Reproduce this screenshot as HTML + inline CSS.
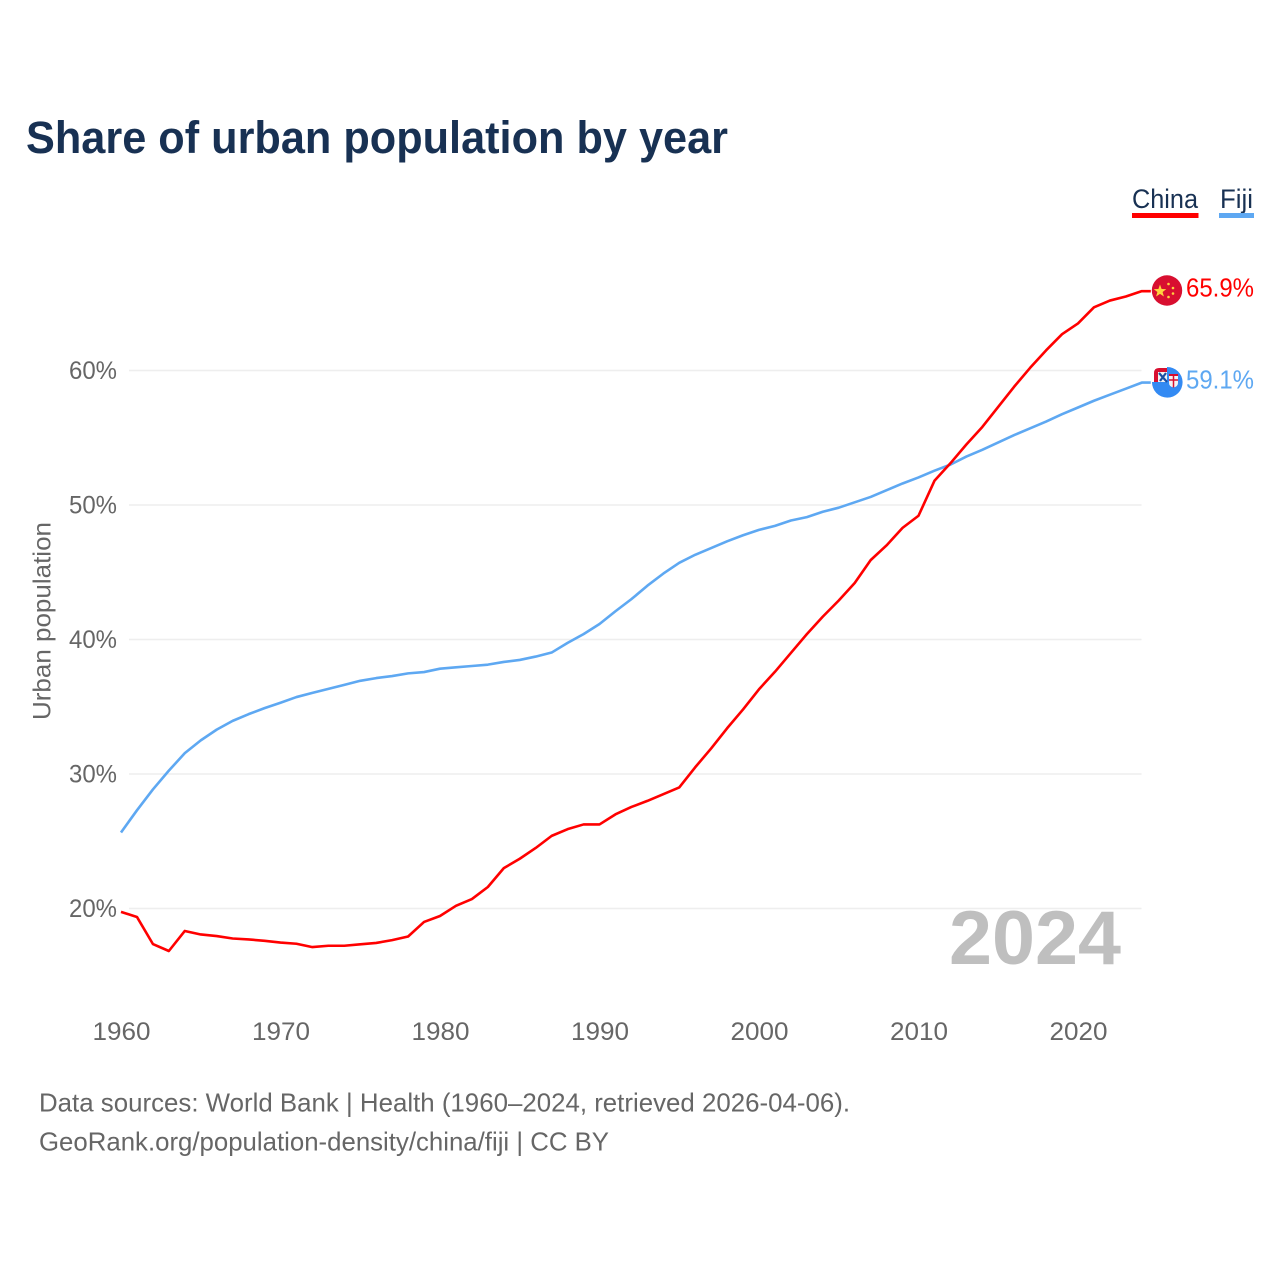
<!DOCTYPE html>
<html lang="en">
<head>
<meta charset="utf-8">
<title>Share of urban population by year</title>
<style>
html,body{margin:0;padding:0;background:#fff;width:1280px;height:1280px;overflow:hidden}
svg{display:block;font-family:"Liberation Sans",sans-serif}
</style>
</head>
<body>
<svg id="chart" width="1280" height="1280" viewBox="0 0 1280 1280" xmlns="http://www.w3.org/2000/svg">
  <text x="26" y="153" font-size="45" font-weight="700" fill="#183153" textLength="702" lengthAdjust="spacingAndGlyphs">Share of urban population by year</text>

  <g>
    <g>
      <text x="1132" y="208" font-size="27" fill="#183153" textLength="66" lengthAdjust="spacingAndGlyphs">China</text>
      <rect x="1132" y="213" width="66.5" height="5" fill="#ff0000"/>
    </g>
    <g>
      <text x="1220" y="208" font-size="27" fill="#183153" textLength="33" lengthAdjust="spacingAndGlyphs">Fiji</text>
      <rect x="1219" y="213" width="35" height="5" fill="#5ea8f2"/>
    </g>
  </g>

  <g id="grid"></g>
  <g id="yticks"></g>
  <g id="xticks"></g>

  <text transform="translate(50.5 621) rotate(-90)" text-anchor="middle" font-size="25" fill="#666666" textLength="198" lengthAdjust="spacingAndGlyphs">Urban population</text>

  <text x="949" y="964" font-size="76" font-weight="700" fill="#bfbfbf" textLength="172" lengthAdjust="spacingAndGlyphs">2024</text>

  <path id="line-fiji" fill="none" stroke="#5ea8f2" stroke-width="2.6" stroke-linejoin="round"/>
  <path id="line-china" fill="none" stroke="#ff0000" stroke-width="2.6" stroke-linejoin="round"/>

  <g id="flag-china">
    <circle cx="1167" cy="290.5" r="15.2" fill="#d80f30"/>
    <polygon points="1160,284.5 1161.6,289 1166.3,289.1 1162.6,292 1163.9,296.5 1160,293.9 1156.1,296.5 1157.4,292 1153.7,289.1 1158.4,289" fill="#ffd23f"/>
    <circle cx="1168.5" cy="284" r="1.3" fill="#ffd23f"/>
    <circle cx="1173" cy="288" r="1.3" fill="#ffd23f"/>
    <circle cx="1173" cy="293.5" r="1.3" fill="#ffd23f"/>
    <circle cx="1168.5" cy="297" r="1.3" fill="#ffd23f"/>
  </g>

  <g id="flag-fiji">
    <path d="M1167 367 A15.3 15.3 0 1 1 1152 382 L1167 382 Z" fill="#338af3"/>
    <path d="M1167 368 L1159 368 Q1154 368 1154 373 L1154 382 L1167 382 Z" fill="#d80f30"/>
    <rect x="1158" y="372" width="9" height="10" fill="#f2f2f2"/>
    <path d="M1159 373 L1167 382 M1166 373 L1160 381" stroke="#1a4fa3" stroke-width="2.2"/>
    <path d="M1169 374 H1178 V383 Q1178 386.5 1173.5 387.5 Q1169 386.5 1169 383 Z" fill="#f4f4f4"/>
    <path d="M1173.5 375 V387.5 M1169 380 H1178" stroke="#d80f30" stroke-width="1.5"/>
    <rect x="1169" y="374" width="9" height="2" fill="#d80f30"/>
  </g>

  <text id="value-china" x="1186" y="296.5" font-size="26" fill="#ff0000" textLength="68" lengthAdjust="spacingAndGlyphs">65.9%</text>
  <text id="value-fiji" x="1186" y="388.5" font-size="26" fill="#5ea8f2" textLength="68" lengthAdjust="spacingAndGlyphs">59.1%</text>

  <g>
    <text x="39" y="1111.5" font-size="26" fill="#666666" textLength="811" lengthAdjust="spacingAndGlyphs">Data sources: World Bank | Health (1960–2024, retrieved 2026-04-06).</text>
    <text x="39" y="1150.5" font-size="26" fill="#666666" textLength="570" lengthAdjust="spacingAndGlyphs">GeoRank.org/population-density/china/fiji | CC BY</text>
  </g>
</svg>

<script>
const startYear = 1960;
const yTickValues = [20, 30, 40, 50, 60];
const xTickYears = [1960, 1970, 1980, 1990, 2000, 2010, 2020];
const chinaValues = [
  19.75, 19.37, 17.36, 16.84, 18.33, 18.07, 17.95, 17.77, 17.7, 17.6,
  17.47, 17.38, 17.13, 17.23, 17.23, 17.34, 17.44, 17.65, 17.92, 19.0,
  19.44, 20.2, 20.7, 21.6, 23.0, 23.7, 24.5, 25.4, 25.9, 26.25,
  26.25, 27.0, 27.55, 28.0, 28.5, 29.0, 30.5, 31.9, 33.4, 34.8,
  36.3, 37.6, 39.0, 40.4, 41.7, 42.9, 44.2, 45.9, 47.0, 48.3,
  49.2, 51.8, 53.1, 54.5, 55.8, 57.3, 58.8, 60.2, 61.5, 62.7,
  63.5, 64.7, 65.2, 65.5, 65.9
];
const fijiValues = [
  25.65, 27.3, 28.85, 30.25, 31.55, 32.5, 33.3, 33.95, 34.45, 34.9,
  35.3, 35.72, 36.03, 36.33, 36.63, 36.93, 37.13, 37.28, 37.48, 37.58,
  37.83, 37.93, 38.03, 38.13, 38.33, 38.48, 38.73, 39.03, 39.75, 40.4,
  41.15, 42.1, 43.0, 44.0, 44.9, 45.7, 46.3, 46.8, 47.3, 47.75,
  48.15, 48.45, 48.85, 49.1, 49.5, 49.8, 50.2, 50.6, 51.1, 51.6,
  52.05, 52.55, 53.0, 53.6, 54.1, 54.65, 55.2, 55.7, 56.2, 56.75,
  57.25, 57.75, 58.2, 58.65, 59.1
];

const SVG_NS = 'http://www.w3.org/2000/svg';
const xScale = function (year) { return 121 + (year - 1960) * 15.95; };
const yScale = function (pct) { return 908.5 - (pct - 20) * 13.45; };

function linePath(values) {
  let d = '';
  values.forEach(function (v, i) {
    d += (i ? 'L' : 'M') + xScale(startYear + i).toFixed(2) + ' ' + yScale(v).toFixed(2);
  });
  const last = values[values.length - 1];
  d += 'L' + (xScale(startYear + values.length - 1) + 9).toFixed(2) + ' ' + yScale(last).toFixed(2);
  return d;
}

document.getElementById('line-china').setAttribute('d', linePath(chinaValues));
document.getElementById('line-fiji').setAttribute('d', linePath(fijiValues));

const gridGroup = document.getElementById('grid');
const yGroup = document.getElementById('yticks');
yTickValues.forEach(function (v) {
  const gl = document.createElementNS(SVG_NS, 'line');
  
  
  gl.setAttribute('x1', 129);
  gl.setAttribute('x2', 1141.5);
  gl.setAttribute('y1', yScale(v));
  gl.setAttribute('y2', yScale(v));
  gl.setAttribute('stroke', '#eeeeee');
  gl.setAttribute('stroke-width', 1.5);
  gridGroup.appendChild(gl);

  const t = document.createElementNS(SVG_NS, 'text');
  
  
  t.setAttribute('x', 69);
  t.setAttribute('y', yScale(v) + 8.5);
  t.setAttribute('font-size', 25);
  t.setAttribute('fill', '#666666');
  t.setAttribute('textLength', 48);
  t.setAttribute('lengthAdjust', 'spacingAndGlyphs');
  t.textContent = v + '%';
  yGroup.appendChild(t);
});

const xGroup = document.getElementById('xticks');
xTickYears.forEach(function (yr) {
  const t = document.createElementNS(SVG_NS, 'text');
  
  
  t.setAttribute('x', xScale(yr) - 28.5);
  t.setAttribute('y', 1040);
  t.setAttribute('font-size', 25);
  t.setAttribute('fill', '#666666');
  t.setAttribute('textLength', 58);
  t.setAttribute('lengthAdjust', 'spacingAndGlyphs');
  t.textContent = yr;
  xGroup.appendChild(t);
});
</script>
</body>
</html>
